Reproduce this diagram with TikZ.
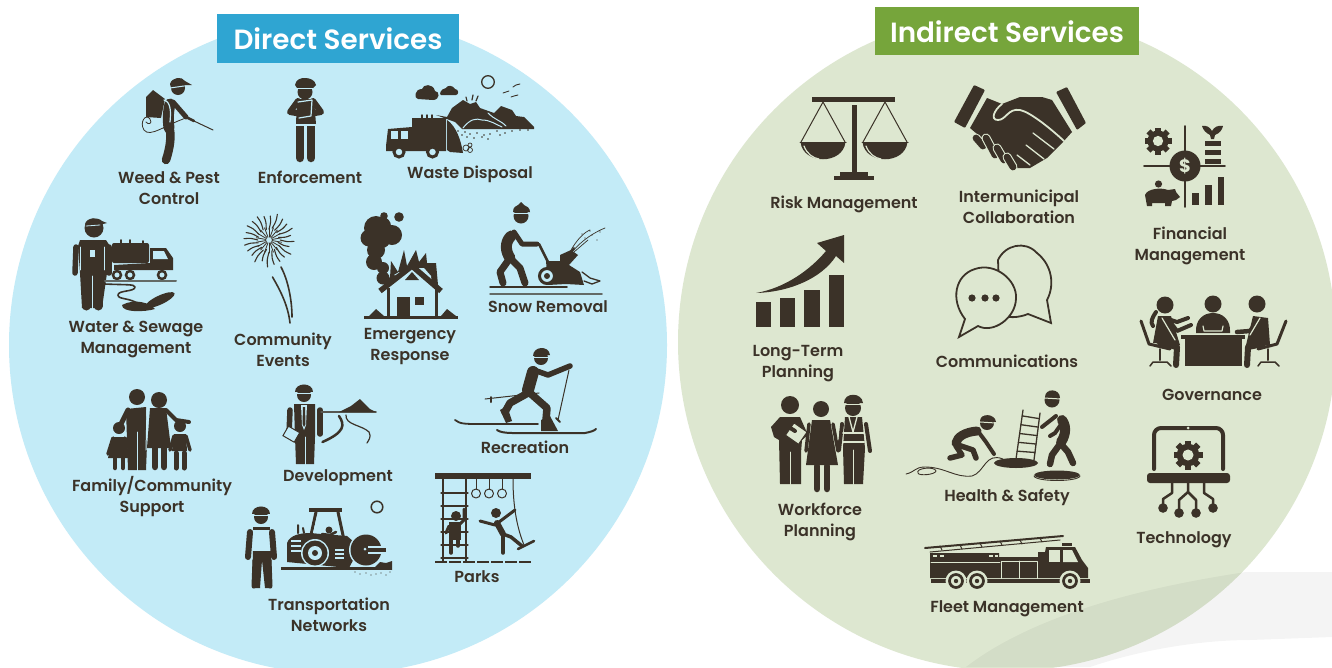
\documentclass[tikz,border=0pt]{standalone}
\usepackage{fontspec}
\usetikzlibrary{calc}
\setmainfont{Poppins}[UprightFont=* SemiBold,BoldFont=* Bold]
\definecolor{ink}{HTML}{3B3228}
\definecolor{bluebg}{HTML}{C3EBF7}
\definecolor{greenbg}{HTML}{DDE7D0}
\definecolor{bluelab}{HTML}{2FA5D2}
\definecolor{greenlab}{HTML}{76A53B}
\tikzset{
 dark/.style={fill=ink,draw=none},
 limb/.style={draw=ink,line cap=round,line join=round,line width=#1},
 limb/.default=7,
 wire/.style={draw=ink,line cap=round,line join=round,line width=#1},
 wire/.default=1.2,
 gapb/.style={draw=bluebg,line cap=round,line join=round,line width=#1},
 gapb/.default=1.2,
 gapg/.style={draw=greenbg,line cap=round,line join=round,line width=#1},
 gapg/.default=1.2,
 lab/.style={text=ink,font=\fontsize{16}{21}\selectfont,align=center,inner sep=0pt},
 ttl/.style={text=white,font=\fontsize{27.8}{32}\selectfont,inner sep=0pt},
}
% gear: x y radius hole-colour
\newcommand{\cog}[4]{\begin{scope}[shift={(#1,#2)}]
 \foreach \a in {0,45,...,315}{\draw[wire=#3*0.42,line cap=butt] (\a:#3*0.6) -- (\a:#3);}
 \fill[dark] (0,0) circle[radius=#3*0.78];
 \fill[#4] (0,0) circle[radius=#3*0.38];
\end{scope}}
\begin{document}
\begin{tikzpicture}[x=1pt,y=-1pt]
\path[use as bounding box,fill=white] (0,0) rectangle (1332,667);
% circles
\fill[bluebg] (338,345) circle[radius=329];
\fill[greenbg] (1007,342) circle[radius=329];
% soft shadow
\fill[black,opacity=0.045] (1332,572) -- (1246,572) .. controls (1160,585) and (1040,610) .. (966,667) -- (1090,667) .. controls (1140,650) and (1200,640) .. (1250,640) -- (1332,637) -- cycle;
% titles
\fill[bluelab] (217,14) rectangle (459,63);
\node[ttl] (t1) at (338,39) {Direct Services};
\fill[greenlab] (875,7) rectangle (1139,55);
\node[ttl] (t2) at (1007,32) {Indirect Services};

% ---------- Weed & Pest
\fill[dark] (146,97) -- (153,90) -- (165,99) -- (161,118) -- (146,117) -- cycle;
\fill[dark] (178,88) circle[radius=7];
\fill[dark] (170,84) .. controls (172,77) and (182,76) .. (185,81) -- (192,85) -- (183,85) -- (171,88) -- cycle;
\draw[gapb=1] (170,88) -- (184,86);
\draw[limb=11] (170,104) .. controls (168,112) and (168,120) .. (169,128);
\draw[limb=8.5] (169,126) .. controls (172,135) and (170,148) .. (166,160);
\draw[limb=5] (173,102) -- (186,117);
\draw[wire=2.5] (186,117) -- (194,121);
\draw[wire=1] (194,121) -- (213,130);
\draw[wire=.8] (186,118) .. controls (165,125) and (150,138) .. (144,130) .. controls (139,122) and (146,113) .. (150,119) .. controls (153,124) and (148,125) .. (146,122);
\draw[gapb] (164,100) .. controls (171,102) and (171,112) .. (170,122);
% ---------- Enforcement
\fill[dark] (305,92) circle[radius=7.5];
\fill[dark] (295,85) .. controls (296,79) and (301,78) .. (305,78) .. controls (310,78) and (315,80) .. (316,85) -- (313,88) -- (297,88) -- cycle;
\draw[gapb=.8] (297,88) -- (313,88);
\fill[dark] (297,99) -- (314,99) -- (316,124) -- (296,124) -- cycle;
\draw[limb=6] (298,101) -- (290,112) -- (302,114);
\draw[limb=6] (313,101) -- (321,112) -- (309,114);
\draw[limb=8.5,line cap=round] (300,126) -- (300,158);
\draw[limb=8.5] (311,126) -- (311,158);
\draw[gapb] (298,102) -- (312,100) -- (311,116) -- (299,118);
\draw[gapb] (296,125) -- (316,125);
\draw[gapb=.8] (305,125) -- (305,132);
\draw[gapb=1] (305.5,135) -- (305.5,162);
% ---------- Waste disposal
\fill[dark] (386,146) -- (388,129) -- (412,127) -- (412,118) -- (446,118) -- (446,151) -- (386,151) -- cycle;
\fill[bluebg] (391,131) rectangle (398,139);
\fill[bluebg] (401,131) rectangle (408,139);
\draw[wire=1.5] (422,118) -- (422,115) (427,118) -- (427,115) (432,118) -- (432,115);
\fill[dark] (447,120) .. controls (456,126) and (461,140) .. (463,153) -- (450,152) -- (447,150) -- cycle;
\draw[fill=bluebg,draw=ink,line width=3] (399,152) circle[radius=5];
\draw[fill=bluebg,draw=ink,line width=3] (432.5,152) circle[radius=5];
\fill[dark] (436,115) -- (447,117) -- (452,108) -- (463,100) -- (470,104) -- (476,102) -- (480,108) -- (494,113) -- (501,106) -- (512,110) -- (516,116) -- (524,117) -- (534,127) -- (534,129) -- (462,129) -- (455,122) -- cycle;
\draw[gapb=1] (463,128) .. controls (470,119) and (476,118) .. (482,120) .. controls (490,120) and (495,124) .. (502,127);
\draw[gapb=1] (488,113) .. controls (495,120) and (500,120) .. (506,126);
\draw[wire=1.2] (472,100) -- (473,95) (476,101) -- (478,96) (467,101) -- (466,97);
\fill[dark] (418,99) -- (433,100) .. controls (440,100) and (440,91) .. (435,91) .. controls (433,83) and (423,84) .. (422,89) .. controls (414,89) and (414,99) .. (418,99) -- cycle;
\fill[dark] (441,95) -- (456,95) .. controls (459,95) and (459,89) .. (455,89) .. controls (453,85) and (447,85) .. (446,88) .. controls (440,89) and (439,95) .. (441,95) -- cycle;
\draw[wire=1.3] (488,82) circle[radius=6.3];
\draw[wire=.9] (513,87) -- (516,85) -- (520,84) (503,93) -- (506,92) -- (509,91) (511,97) -- (514,96) -- (518,95);
\foreach \x/\y in {465/132,470/134,477/133,484/135,490/134,497/131,505/133,512/131,520/130,528/130,467/137,474/138,482/137,488/139,500/135,458/131,462/135}{\fill[dark] (\x,\y) circle[radius=.9];}
\draw[wire=.7] (466,148) circle[radius=3] (470,150) circle[radius=2.5] (470,145) circle[radius=2];
% ---------- Water & sewage
\fill[dark] (94,228) circle[radius=9.5];
\fill[dark] (85,224) .. controls (87,217) and (98,217) .. (102,221) -- (107,223) -- (99,225) -- (88,226) -- cycle;
\draw[gapb=.8] (86,226) -- (100,225);
\fill[dark] (80,240) -- (106,240) -- (110,246) -- (107,273) -- (102,308) -- (82,308) -- (80,273) -- (78,246) -- cycle;
\draw[limb=5.5] (76,247) -- (75,273);
\draw[limb=5.5] (109,247) -- (109,273);
\draw[limb=9] (86,270) -- (86,306);
\draw[limb=9] (98,270) -- (98,306);
\draw[gapb=1] (92,276) -- (92,312);
\draw[gapb=.8] (80,247) -- (80,270) (104,247) -- (104,270);
\fill[bluebg] (90,250) rectangle (95,257);
\fill[dark,rounded corners=2] (112,243) rectangle (149,263);
\draw[wire=2] (121,243) -- (121,240) (130,243) -- (130,240) (143,243) -- (143,241);
\fill[dark] (114,265) -- (150,263) -- (150,248) -- (166,248) -- (173,258) -- (173,270) -- (114,270) -- cycle;
\fill[bluebg] (153,251) -- (164,251) -- (168,259) -- (153,259) -- cycle;
\foreach \x in {117,130,162}{\draw[fill=bluebg,draw=ink,line width=2.5] (\x,275) circle[radius=4];}
\draw[wire=2,draw=ink!70!bluebg] (105,281) -- (176,281);
\draw[wire=1.6] (105,284) .. controls (125,285) and (135,284) .. (135,287) .. controls (135,292) and (118,290) .. (118,295) .. controls (118,300) and (130,297) .. (140,305);
\fill[dark] (122,305) .. controls (135,298) and (150,303) .. (155,309) .. controls (145,312) and (122,313) .. (122,305) -- cycle;
\fill[dark,rotate around={25:(160,300)}] (160,300) ellipse[x radius=16,y radius=4.5];
% ---------- Community Events
\begin{scope}[shift={(269,240)}]
\foreach \a/\r in {0/25,15/21,30/26,45/23,60/24,75/25,90/27,105/22,120/26,135/23,150/24,165/25,180/25,195/24,210/26,225/25,240/26,255/24,270/24,285/27,300/25,315/24,330/26,345/22}{
 \draw[wire=1.1] (\a:\r*0.45) .. controls (\a+6:\r*0.75) .. (\a+3:\r);}
\foreach \a in {10,30,...,350}{\draw[wire=.8] (\a:3) -- (\a:13);}
\end{scope}
\draw[wire=1.6] (281,267) .. controls (288,280) and (292,300) .. (292,317);
\draw[wire=1.6] (272.5,277) .. controls (280,290) and (288,305) .. (290,323);
% ---------- Emergency
\foreach \x/\y/\r in {384/216/3.8,399/217/4.8,376/228/12,369/238/8.5,392/235/10,382/226/9,376/250/9,382/240/8,374/262/8,383/278/6.5,383/268/6}{\fill[dark] (\x,\y) circle[radius=\r];}
\fill[dark] (384,288) -- (384,272) -- (390,278) -- (391,261) -- (398,272) -- (404,250) -- (407,266) -- (416,250) -- (419,262) -- (426,253) -- (427,263) -- (436,263) -- (438,285) -- (430,288) -- cycle;
\fill[bluebg] (394,275) -- (399,272) -- (405,272) -- (408,266) -- (412,264) -- (417,268) -- (424,268) -- (431,276) -- (432,285) -- cycle;
\fill[bluebg] (386,289) -- (412,268) -- (438,289) -- (437,318) -- (388,318) -- cycle;
\draw[limb=5.5,line cap=butt,line join=miter] (380,291) -- (412,266) -- (441,291);
\draw[wire=3,line cap=butt] (388,288) -- (388,318) (436,288) -- (436,318);
\fill[dark] (397,297) rectangle (410,317);
\fill[dark] (415,297) rectangle (424,305);
\fill[dark] (364,316) rectangle (458,319);
\fill[dark] (369,316) -- (376,309) -- (384,316) -- cycle;
\fill[dark] (441,316) -- (447,309) -- (456,316) -- cycle;
\fill[dark] (405,280) -- (412,272) -- (419,280) -- cycle;
% ---------- Snow Removal
\fill[dark] (521,216) circle[radius=7.5];
\fill[dark] (513,212) .. controls (513,207) and (516,206) .. (518,205) -- (521,202) -- (524,205) .. controls (527,206) and (530,208) .. (530,212) -- cycle;
\draw[gapb=1] (512,213) -- (530,213);
\draw[limb=11] (511,236) .. controls (504,243) and (506,252) .. (510,258);
\draw[limb=5] (514,232) -- (522,244) -- (537,244);
\draw[limb=7] (510,258) -- (500,272) -- (503,283);
\draw[limb=7] (510,258) -- (520,268) -- (525,283);
\draw[wire=2.5] (539,244) -- (548,262);
\fill[dark] (546,261) -- (560,261) -- (560,255) -- (571,250) -- (578,255) -- (569,265) -- (580,272) -- (584,285) -- (566,284) -- (548,285) -- cycle;
\draw[fill=bluebg,draw=ink,line width=3] (547,276) circle[radius=7.5];
\fill[dark] (547,276) circle[radius=3];
\draw[wire=2] (569,254) -- (574,248);
\draw[wire=.7] (571,250) .. controls (578,238) and (585,232) .. (590,230) (573,251) .. controls (582,240) and (595,232) .. (605,228) (574,252) -- (588,240);
\foreach \x/\y in {585/238,592/235,582/234,597/240,600/232,590/231}{\fill[dark] (\x,\y) circle[radius=.6];}
\draw[wire=1.3] (582,272) -- (590,278) -- (600,281) -- (592,284) -- (584,281);
\draw[wire=1.5] (490,287) -- (567,287);
\draw[wire=1.5,draw=ink!70!bluebg] (490,294) -- (602,294);
% ---------- Recreation
\fill[dark] (541,358) circle[radius=7];
\fill[dark] (533,356) .. controls (533,346) and (549,345) .. (550,355) -- cycle;
\draw[gapb=1] (533,357) -- (550,357);
\draw[limb=12] (533,372) -- (528,390);
\draw[limb=5.5] (534,370) -- (548,375) -- (570,366);
\draw[limb=7.5] (530,393) -- (547,408) -- (546,420);
\draw[limb=7.5] (528,393) -- (510,403) -- (505,412);
\fill[dark] (500,410) -- (507,406) -- (512,421) -- (506,423) -- cycle;
\fill[dark] (541,420) -- (550,416) -- (558,431) -- (541,431) -- cycle;
\draw[wire=1] (485,399) -- (539,393);
\draw[wire=2] (491,397) -- (491,402);
\draw[wire=1] (569,370) -- (558,420);
\draw[wire=2] (556,418) -- (560,422);
\draw[wire=1.8] (455,420) .. controls (460,424) and (465,424) .. (480,424) -- (538,424);
\draw[wire=2] (497,430) .. controls (503,434) and (510,433) .. (560,433) -- (585,433) .. controls (590,432) and (594,431) .. (596,429);
% ---------- Family
\fill[dark] (137,397) circle[radius=8];
\fill[dark] (159,400) circle[radius=8];
\fill[dark] (119,428) circle[radius=6];
\fill[dark] (180,426) circle[radius=6];
\fill[dark] (126,409) -- (146,407) -- (147,445) -- (146,470) -- (128,470) -- (127,440) -- cycle;
\draw[limb=5] (128,410) -- (121,424);
\fill[dark] (150,408) -- (166,408) -- (171,448) -- (147,448) -- cycle;
\draw[limb=4] (166,410) -- (176,420) -- (189,422);
\draw[limb=6.5] (155,448) -- (155,467);
\draw[limb=6.5] (164,448) -- (164,467);
\draw[gapb=1] (137,432) -- (137,472);
\fill[dark] (113,437) -- (125,437) -- (130,458) -- (108,458) -- cycle;
\draw[wire=3.5] (113,438) -- (108,454) (125,438) -- (131,453);
\draw[limb=4.5] (115,458) -- (115,468);
\draw[limb=4.5] (123,458) -- (123,468);
\fill[dark] (174,434) -- (186,434) -- (187,451) -- (172,451) -- cycle;
\draw[wire=3.5] (174,436) -- (170,450) (186,436) -- (190,450);
\draw[limb=5] (176,453) -- (176,468);
\draw[limb=5] (184,453) -- (184,468);
\draw[gapb=1] (147,410) -- (146,450);
% ---------- Development
\fill[dark] (304,395) circle[radius=7];
\fill[dark] (295,392) .. controls (295,382) and (313,382) .. (313,392) -- cycle;
\draw[gapb=1] (295,393) -- (313,393);
\fill[dark] (294,404) -- (315,404) -- (315,437) -- (314,464) -- (296,464) -- (295,437) -- cycle;
\draw[limb=5.5] (290,410) -- (289,434);
\draw[limb=5.5] (320,410) -- (320,434);
\fill[bluebg] (301,405) -- (307,405) -- (306,425) -- (304,430) -- (302,425) -- cycle;
\fill[dark] (303,407) -- (305,407) -- (305.5,424) -- (304,427) -- (302.5,424) -- cycle;
\draw[gapb=1] (305,437) -- (305,466);
\draw[fill=bluebg,draw=ink,line width=1,rotate around={-30:(292,434)}] (285,429) rectangle (298,440);
\draw[wire=1.5,draw=ink!80!bluebg] (321,412) -- (376,412);
\fill[dark] (339,412) -- (351,406) -- (360,399) -- (370,409) -- (376,412) -- cycle;
\draw[limb=2.5] (322.5,442) .. controls (345,432) and (345,425) .. (339,416) ;
\draw[wire=1.2] (346,415) .. controls (345,425) and (362,425) .. (369,432) .. controls (372,437) and (368,441) .. (367,443);
% ---------- Transportation
\fill[dark] (261,517) circle[radius=7];
\fill[dark] (252,514) .. controls (252,504) and (270,504) .. (270,514) -- cycle;
\draw[gapb=1] (252,515) -- (270,515);
\draw[limb=6] (250,532) -- (248,557);
\draw[limb=6] (272,532) -- (274,557);
\fill[dark] (253,527) rectangle (270,530);
\fill[dark] (253,551) -- (271,551) -- (272,588) -- (265,588) -- (262,560) -- (260,588) -- (252,588) -- cycle;
\draw[limb=5] (255,560) -- (254,586);
\draw[limb=5] (269,560) -- (270,586);
\fill[dark] (309,508) rectangle (342,512);
\draw[wire=3] (316,512) -- (311,535) (338,512) -- (344,540);
\fill[dark] (287,543) .. controls (290,535) and (300,533) .. (311,533) -- (347,536) -- (360,547) -- (349,568) -- (287,562) -- cycle;
\fill[bluebg] (317,516) -- (335,516) -- (340,535) -- (313,533) -- cycle;
\fill[dark] (329,530) circle[radius=3.5];
\draw[wire=2.5] (322,534) -- (330,535) -- (336,532);
\draw[wire=2] (298,533) -- (298,525) (304,533) -- (303,528);
\fill[bluebg] (291,540) rectangle (301,542);\fill[bluebg] (291,545) rectangle (301,547);\fill[bluebg] (291,550) rectangle (301,552);
\fill[bluebg] (335,549) rectangle (344,551);\fill[bluebg] (335,553) rectangle (344,555);\fill[bluebg] (335,557) rectangle (344,559);
\fill[bluebg] (315,553) circle[radius=14];
\fill[dark] (315,553) circle[radius=12.5];
\fill[bluebg] (315,553) circle[radius=7];
\fill[dark] (315,553) circle[radius=3];
\fill[bluebg] (366,550) circle[radius=17];
\fill[dark] (366,550) circle[radius=15.5];
\fill[bluebg] (368,546) rectangle (387,548);
\fill[bluebg] (368,552) rectangle (387,554);
\fill[dark] (368,548) rectangle (386,552);
\fill[bluebg] (365,549) circle[radius=1.5];
\fill[dark] (281,567) rectangle (392,570);
\fill[dark] (375,567) -- (380,562) -- (386,563) -- (392,561) -- (392,570) -- cycle;
\draw[wire=1.5] (377,507) circle[radius=5.8];
\foreach \x/\y in {355/572,360/574,366/573,371/575,376/574,381/573,386/575,390/572}{\fill[dark] (\x,\y) circle[radius=.7];}
% ---------- Parks
\fill[dark] (435,473) rectangle (531,479);
\draw[wire=1.3] (443,479) -- (443,562) (466,479) -- (466,562);
\foreach \y in {493,506,519,532,545,558}{\draw[wire=1.3] (441,\y) -- (468,\y);}
\foreach \x in {476,489,502}{\draw[wire=.9] (\x,479) -- (\x,489);\draw[wire=1] (\x,493.5) circle[radius=4.5];}
\draw[wire=1] (513,479) .. controls (513,510) and (518,530) .. (524,545);
\draw[wire=2.5] (518,549) -- (534,541);
\draw[draw=ink,line width=1.4,dash pattern=on 12pt off 2pt] (435,562) -- (531,562);
\fill[dark] (456,516) circle[radius=5];
\fill[dark] (449,522) -- (461,522) -- (461,540) -- (449,540) -- cycle;
\draw[limb=3.5] (451,538) -- (451,553);
\draw[limb=3.5] (458,538) -- (458,546);
\draw[limb=3] (460,524) -- (464,520) -- (464,509);
\draw[limb=3] (449,526) -- (446,533);
\fill[dark] (496,513) circle[radius=5];
\draw[limb=3] (480,521) -- (495,525) -- (515,510);
\draw[limb=6] (497,523) -- (503,534);
\draw[limb=3.5] (503,534) -- (503,553);
\draw[limb=3.5] (503,534) -- (511,537) -- (522,546);
% ---------- Risk Management
\fill[dark] (812,96.5) rectangle (895,101.5);
\fill[dark] (851.5,105) rectangle (857,174);
\fill[dark] (840,172) rectangle (868,176);
\fill[dark] (834,176) rectangle (874,180);
\foreach \c in {823,885}{
 \draw[wire=1] (\c,102) -- (\c-22,142) (\c,102) -- (\c+22,142);
 \fill[dark] (\c-22.5,142) .. controls (\c-20,165) and (\c+20,165) .. (\c+22.5,142) -- cycle;
 \draw[wire=1] (\c-23,142) -- (\c+23,142);
 \draw[gapg] (\c-19,146) .. controls (\c-16,154) and (\c-10,158) .. (\c-4,159);
}
% ---------- Handshake
\fill[dark,rounded corners=1] (974,85) -- (985,90) -- (965,128) -- (954,122) -- cycle;
\fill[dark,rounded corners=1] (1067,87) -- (1056,92) -- (1077,130) -- (1086,123) -- cycle;
\fill[dark] (987,98) -- (1002,104) -- (1020,97) -- (1042,97) -- (1052,100) -- (1072,132) -- (1063,142) -- (1047,158) -- (1030,168) -- (1016,168) -- (1000,158) -- (984,140) -- (970,128) -- cycle;
\draw[gapg=1.8] (1002,104) .. controls (994,110) and (990,120) .. (998,120) .. controls (1006,120) and (1008,108) .. (1020,110) .. controls (1030,112) and (1050,128) .. (1064,141);
\draw[gapg=1.3] (1033,133) -- (1054,149) (1026,145) -- (1044,159) (1017,155) -- (1030,165);
\foreach \a/\b/\c/\d in {976/138/983/146,986/138/995/155,997/148/1004/160,1007/157/1013/167}{
 \draw[gapg=9] (\a,\b) -- (\c,\d);
 \draw[limb=6.8] (\a,\b) -- (\c,\d);}
% ---------- Financial
\draw[wire=1.6] (1185,126) -- (1185,207) (1144,166) -- (1225,166);
\fill[dark] (1185,166) circle[radius=15.5];
\node[text=greenbg,font=\fontsize{18}{18}\selectfont\bfseries,inner sep=0pt] (dollar) at (1185,166) {\$};
\cog{1158}{141}{13.5}{greenbg}
\fill[dark] (1210,135) .. controls (1206,133) and (1203,130) .. (1202,126) .. controls (1206,125) and (1210,127) .. (1212,131) .. controls (1214,127) and (1218,125) .. (1223,126) .. controls (1222,130) and (1220,133) .. (1215,135) -- (1214,139) -- (1211,139) -- cycle;
\foreach \y in {141,150,159}{\fill[dark] (1204.5,\y) rectangle (1221,\y+5);}
\fill[dark] (1158.5,184) circle[radius=3.6];
\fill[dark] (1145,195) .. controls (1147,189) and (1160,187) .. (1168,190) -- (1175,189) -- (1176,192) -- (1180,197) -- (1176,200) -- (1172,201) -- (1171,206) -- (1165,206) -- (1165,203) -- (1152,203) -- (1152,206) -- (1147,206) -- cycle;
\fill[dark] (1192,193) rectangle (1199,205);
\fill[dark] (1205,185) rectangle (1211.5,205);
\fill[dark] (1218,177) rectangle (1224,205);
% ---------- Long-Term
\fill[dark] (756,302) rectangle (771,327);
\fill[dark] (780,298) rectangle (795,327);
\fill[dark] (804,290) rectangle (820,327);
\fill[dark] (829,275) rectangle (844,327);
\fill[dark] (756,293) .. controls (785,288) and (810,270) .. (826,251) -- (817,243) -- (844,235) -- (844,263) -- (836,256) .. controls (822,278) and (790,292) .. (756,293) -- cycle;
% ---------- Communications
\draw[fill=greenbg,draw=ink,line width=1.8] (998,260) .. controls (1005,245) and (1025,240) .. (1037,253) .. controls (1052,265) and (1055,285) .. (1047,300) -- (1051,323) -- (1028,314) .. controls (1018,318) and (1008,318) .. (1000,315) -- cycle;
\draw[fill=greenbg,draw=ink,line width=1.8] (965,319) .. controls (950,300) and (955,275) .. (975,269) .. controls (995,262) and (1017,280) .. (1016,298) .. controls (1016,318) and (993,334) .. (978,326) -- (959,337) -- cycle;
\foreach \x in {972,985,996}{\fill[dark] (\x,298) circle[radius=3.6];}
% ---------- Governance
\foreach \x/\y in {1165/305,1213/304,1257/304}{\fill[dark] (\x,\y) circle[radius=8.5];}
\fill[dark] (1196,333) .. controls (1195,320) and (1203,313) .. (1213,313) .. controls (1223,313) and (1231,320) .. (1230,333) -- cycle;
\draw[gapg] (1203,326) -- (1204,331) -- (1222,331) -- (1223,326);
\fill[dark] (1181,335) rectangle (1245,339);
\fill[dark] (1185,339) rectangle (1242,366);
% left person
\fill[dark] (1158,316) -- (1171,316) -- (1180,345) -- (1153,343) -- cycle;
\draw[limb=4] (1168,319) -- (1177,331) -- (1191,325);
\draw[limb=4] (1168,319) -- (1177,322) -- (1188,318);
\draw[gapg] (1162,318) -- (1175,340);
\draw[limb=4] (1156,312) .. controls (1152,318) and (1150,322) .. (1153,326);
\draw[limb=6] (1160,343) -- (1177,347) -- (1176,365);
% right person
\fill[dark] (1253,316) -- (1268,318) -- (1270,345) -- (1246,345) -- cycle;
\draw[limb=4.5] (1258,321) -- (1250,331) -- (1237,332);
\draw[gapg] (1260,318) -- (1250,335);
\draw[limb=6] (1263,344) -- (1248,347) -- (1247,365);
% chairs
\draw[limb=3] (1141,321) -- (1149,344) -- (1170,349);
\draw[limb=2] (1160,349) -- (1160,360);
\draw[wire=1.5] (1150,366) -- (1153,362) -- (1167,362) -- (1171,366);
\draw[limb=3] (1286,321) -- (1277,344) -- (1258,349);
\draw[limb=2] (1268,349) -- (1268,360);
\draw[wire=1.5] (1258,366) -- (1261,362) -- (1275,362) -- (1279,366);
% ---------- Workforce
\fill[dark] (790,405) circle[radius=9];
\fill[dark] (821,409) circle[radius=8];
\fill[dark] (853,408) circle[radius=8];
\fill[dark] (844,403) .. controls (844,392) and (862,392) .. (863,403) -- cycle;
\draw[gapg=1] (843,404) -- (864,404);
% left man
\fill[dark] (780,417) -- (800,417) -- (808,435) -- (802,440) -- (801,453) -- (801,484) -- (780,484) -- (779,440) -- (774,437) -- (771,427) -- cycle;
\draw[gapg=1] (790.5,452) -- (790.5,486);
\draw[fill=greenbg,draw=ink,line width=1,rotate around={-35:(796,434)}] (788,426) rectangle (804,441);
\draw[limb=4] (784,424) -- (795,431);
% woman
\fill[dark] (812,420) -- (830,420) -- (838,465) -- (806,465) -- cycle;
\draw[limb=3.5] (809,424) -- (806,451);
\draw[limb=3.5] (833,424) -- (838,451);
\draw[limb=6.5] (817,466) -- (817,489);
\draw[limb=6.5] (827,466) -- (827,489);
% right man
\fill[dark] (845,417) -- (862,417) -- (865,448) -- (863,484) -- (844,484) -- (843,448) -- cycle;
\draw[limb=4] (842,424) -- (839,450);
\draw[limb=4] (866,424) -- (870,451);
\draw[gapg=1] (853.5,450) -- (853.5,486);
\draw[gapg=2] (843,433) -- (864,433) (843,442) -- (864,442);
\draw[gapg=1.3] (849,417) -- (853,432) -- (857,417);
\draw[gapg=.8] (840,418) -- (838,440);
% ---------- Health & Safety
\fill[dark] (987,423) circle[radius=7];
\fill[dark] (980,421) .. controls (980,413) and (995,413) .. (996,422) -- cycle;
\draw[gapg=1] (980,422) -- (996,423);
\draw[limb=9] (977,431) .. controls (965,432) and (957,437) .. (956,443);
\draw[limb=5.5] (958,445) -- (973,450) -- (976,458);
\draw[limb=5.5] (956,446) -- (962,455) -- (950,458);
\draw[limb=4] (977,430) -- (986,442) -- (994,454);
\draw[wire=.9] (906,474) .. controls (915,472) and (915,467) .. (925,467) .. controls (945,467) and (955,478) .. (972,476) .. controls (985,472) and (985,452) .. (1003,459);
\draw[wire=.9] (918,473) .. controls (915,468) and (935,466) .. (936,471) .. controls (935,475) and (918,476) .. (918,473) -- cycle;
\fill[dark] (1016,463) ellipse[x radius=22,y radius=5];
\draw[wire=1.3] (1023,410) -- (1016,459) (1040,413) -- (1034,460);
\foreach \t in {.12,.3,.48,.66,.84}{\draw[wire=1.3] ($(1023,410)!\t!(1016,459)$) -- ($(1040,413)!\t!(1034,460)$);}
\fill[dark] (1052,400) circle[radius=7.5];
\fill[dark] (1045,397) .. controls (1045,388) and (1060,388) .. (1060,398) -- cycle;
\draw[gapg=1] (1044,398) -- (1061,399);
\draw[limb=10] (1062,420) .. controls (1068,428) and (1064,438) .. (1061,442);
\draw[limb=4] (1056,416) -- (1042,427);
\draw[limb=4] (1062,423) -- (1055,433) -- (1050,436);
\draw[limb=6.5] (1060,444) -- (1052,455) -- (1050,464);
\draw[limb=6.5] (1061,444) -- (1068,452) -- (1073,463);
\fill[dark] (1057,475) ellipse[x radius=23,y radius=4.5];
\draw[wire=.9] (1034,476) .. controls (1036,482) and (1078,482) .. (1080,476);
% ---------- Technology
\draw[wire=4,rounded corners=7] (1154,469) -- (1154,428) -- (1223,428) -- (1223,469);
\fill[greenbg] (1188,428) circle[radius=1.5];
\cog{1188}{455}{14.5}{greenbg}
\fill[dark,rounded corners=3] (1147,473) rectangle (1230,483);
\draw[wire=2.5] (1172,482) -- (1172,493) -- (1163,499) -- (1163,508);
\draw[wire=2.5] (1204,482) -- (1204,493) -- (1213,499) -- (1213,508);
\draw[wire=2.5] (1188,482) -- (1188,492) (1179,513) -- (1179,500) -- (1188,492) -- (1196,500) -- (1196,513);
\foreach \x/\y in {1163/508,1179/513,1196/513,1213/508}{\fill[dark] (\x,\y) circle[radius=4.8];}
% ---------- Fire truck
\draw[wire=2] (925,548) -- (1063,536);
\draw[wire=1] (930,552) -- (1060,540);
\foreach \x/\y in {940/546,960/545,980/543,1000/541,1020/540,1040/538}{\draw[wire=1] (\x,\y) -- (\x+2,\y+4);}
\fill[dark] (930,553) -- (999,553) -- (999,557) -- (1038,557) -- (1038,552) -- (1045,552) -- (1046,547) -- (1075,547) -- (1082,560) -- (1088,568) -- (1088,578) -- (930,578) -- cycle;
\fill[greenbg] (1049,550) rectangle (1060,562);
\fill[greenbg] (1063,550) -- (1072,550) -- (1078,562) -- (1063,562) -- cycle;
\draw[gapg=.8] (931,562) -- (1000,562);
\draw[gapg=1] (1001,561) rectangle (1037,580);
\draw[gapg=1] (1019,561) -- (1019,580);
\fill[greenbg] (933,555) rectangle (937,557);\fill[greenbg] (940,555) rectangle (944,557);
\fill[greenbg] (989,555) rectangle (993,557);\fill[greenbg] (995,555) rectangle (998,557);
\fill[dark] (1062,543) rectangle (1072,545.5);
\fill[dark] (931,579) rectangle (1090,583);
\foreach \x in {956,977,1070}{
 \fill[greenbg] (\x,581) circle[radius=10.5];
 \draw[fill=greenbg,draw=ink,line width=2.7] (\x,581) circle[radius=6.5];
 \fill[dark] (\x,581) circle[radius=2.2];}
% ---------- Labels
\node[lab] (l1) at (169,188.5) {Weed \& Pest\\Control};
\node[lab] (l2) at (310,177) {Enforcement};
\node[lab] (l3) at (470,174) {Waste Disposal};
\node[lab] (l4) at (136,339.5) {Water \& Sewage\\Management};
\node[lab] (l5) at (283,349.5) {Community\\Events};
\node[lab] (l6) at (410,346.5) {Emergency\\Response};
\node[lab] (l7) at (548,307) {Snow Removal};
\node[lab] (l8) at (525,447) {Recreation};
\node[lab] (l9) at (152,496.5) {Family/Community\\Support};
\node[lab] (l10) at (338,478) {Development};
\node[lab] (l11) at (329,614.5) {Transportation\\Networks};
\node[lab] (l12) at (477,577) {Parks};
\node[lab] (r1) at (844,204) {Risk Management};
\node[lab] (r2) at (1019,206.5) {Intermunicipal\\Collaboration};
\node[lab] (r3) at (1190,245.5) {Financial\\Management};
\node[lab] (r4) at (798,363.5) {Long-Term\\Planning};
\node[lab] (r5) at (1007,361) {Communications};
\node[lab] (r6) at (1212,395) {Governance};
\node[lab] (r7) at (820,521.5) {Workforce\\Planning};
\node[lab] (r8) at (1007,497) {Health \& Safety};
\node[lab] (r9) at (1184,540) {Technology};
\node[lab] (r10) at (1007,609) {Fleet Management};
\end{tikzpicture}
\end{document}
